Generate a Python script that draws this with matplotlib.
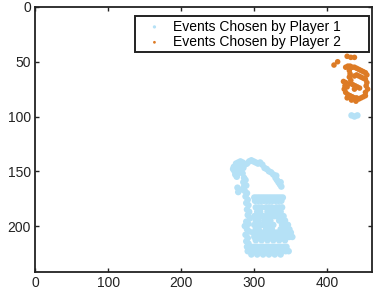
import matplotlib
matplotlib.use("Agg")
import matplotlib.pyplot as plt
from matplotlib.patches import Rectangle
import numpy as np

plt.rcParams['font.family'] = ['Liberation Sans', 'DejaVu Sans']

# Player 1 (light blue) points: (x, y)
player1_pts = [
    # top-left blob
    (272,146),(275,143),(278,142),(281,141),(284,142),(287,144),(273,150),(276,148),
    (279,146),(282,145),(285,147),(274,153),(277,152),(280,150),(271,148),(276,155),
    # small group
    (277,165),(280,167),(278,169),
    # arc
    (290,143),(293,141),(296,140),(299,141),(302,142),(305,143),(308,142),(311,144),
    (314,147),(317,148),(320,150),(323,151),(326,153),(329,156),(331,158),(333,160),
    (335,162),(337,164),(336,160),(330,154),
    # left vertical stroke
    (284,152),(286,156),(285,160),(288,158),(286,164),(289,163),(287,168),(290,170),
    (288,173),(291,176),(289,179),(292,181),(290,185),(293,187),(291,190),(294,193),
    (289,196),(292,198),(287,200),(290,203),(293,205),(288,208),(291,211),(289,214),
    (292,216),(290,219),(293,221),
    # strip 1
    (300,174),(303,174),(306,174),(309,174),(312,174),(315,174),(318,174),(321,174),
    (324,174),(327,174),(330,174),(333,174),(336,174),(339,174),
    (301,177),(305,177),(309,177),(313,177),(317,177),(321,177),(325,177),(329,177),
    (333,177),(337,177),
    # strip 2
    (302,183),(306,183),(310,183),(316,183),(320,183),(324,183),(330,183),(334,183),(338,183),
    (304,187),(308,187),(318,187),(322,187),(326,187),(332,187),(336,187),
    # strip 3
    (300,191),(304,191),(308,191),(312,191),(316,191),(320,191),(324,191),(328,191),
    (332,191),(336,191),(340,191),
    (302,195),(306,195),(314,195),(318,195),(322,195),(334,195),(338,195),(342,195),
    # blob row
    (300,199),(304,199),(308,199),(312,199),(318,199),(322,199),(326,199),(338,199),
    (342,199),(346,199),
    (302,203),(306,203),(316,203),(320,203),(324,203),(336,203),(340,203),(344,203),(348,203),
    # strip 4
    (298,206),(302,206),(306,206),(310,206),(314,206),(318,206),(322,206),(326,206),
    (330,206),(334,206),(338,206),(342,206),(346,206),(350,206),
    (300,210),(304,210),(308,210),(312,210),(316,210),(320,210),(324,210),(328,210),
    (332,210),(336,210),(340,210),(344,210),(348,210),(352,210),
    (302,213),(310,213),(318,213),(326,213),(334,213),(342,213),
    # strip 5
    (292,219),(296,219),(300,219),(304,219),(308,219),(312,219),(316,219),(320,219),
    (324,219),(328,219),(332,219),(336,219),(340,219),(344,219),
    (291,223),(295,223),(299,223),(303,223),(307,223),(311,223),(315,223),(319,223),
    (323,223),(327,223),(331,223),(335,223),(339,223),(343,223),(347,223),
    (296,226),(304,226),(312,226),(320,226),(328,226),(336,226),
    # stray points near the orange cluster
    (433,99),(437,100),(441,99),
]

# Player 2 (orange) points: (x, y)
player2_pts = [
    (427,45),(432,46),(437,46),
    (414,50),(409,53),
    (425,55),(428,54),(431,54),(434,55),(437,55),(440,56),(443,57),
    (446,58),(449,59),(452,60),(454,62),
    (430,58),(431,61),(430,64),(432,67),(431,70),
    (437,63),(440,62),(443,63),(446,64),(449,65),
    (422,68),(425,69),(424,72),(427,73),(423,75),
    (435,71),(438,72),(441,73),(444,74),(437,75),
    (452,66),(454,69),(453,72),(455,75),(452,78),
    (425,78),(428,80),(431,81),(434,82),(437,83),(440,83),(443,84),(446,83),
    (449,82),(452,81),(427,83),(433,85),(439,86),
]

labels = ["Events Chosen by Player 1", "Events Chosen by Player 2"]
x_ticks = [0, 100, 200, 300, 400]
y_ticks = [0, 50, 100, 150, 200]
x_lim = (0, 461)
y_lim = (0, 242)

blue = '#b5e1f6'
orange = '#dd7b25'
W, H = 374, 293

fig = plt.figure(figsize=(W/100, H/100), dpi=100)
ax = fig.add_axes([35/W, 21/H, 337/W, 265/H])

p1 = np.array(player1_pts)
p2 = np.array(player2_pts)
ax.scatter(p1[:, 0], p1[:, 1], s=22, color=blue, edgecolors='none', label=labels[0])
ax.scatter(p2[:, 0], p2[:, 1], s=16, color=orange, edgecolors='none', label=labels[1])

ax.set_xlim(*x_lim)
ax.set_ylim(y_lim[1], y_lim[0])
ax.set_xticks(x_ticks)
ax.set_yticks(y_ticks)
ax.tick_params(direction='in', top=True, right=True, length=3, width=1.0,
               labelsize=10, colors='#222222', labelcolor='#222222', pad=3)
for sp in ax.spines.values():
    sp.set_linewidth(1.3)
    sp.set_color('#222222')

# legend box (drawn as a rectangle so the padding matches)
box_l, box_r, box_t, box_b = 135, 369, 16, 52
fig.patches.append(Rectangle((box_l/W, 1 - box_b/H), (box_r - box_l)/W, (box_b - box_t)/H,
                             transform=fig.transFigure, facecolor='white',
                             edgecolor='#222222', linewidth=1.4, zorder=5))
leg = fig.legend(handles=ax.collections, labels=labels, loc='upper left',
                 bbox_to_anchor=(box_l/W, 1 - (box_t - 2)/H), borderaxespad=0,
                 fontsize=10, frameon=False, markerscale=0.5,
                 handletextpad=0.35, borderpad=0.4, labelspacing=0.1, handlelength=2.0)
leg.set_zorder(6)

fig.savefig('out.png', dpi=100)
